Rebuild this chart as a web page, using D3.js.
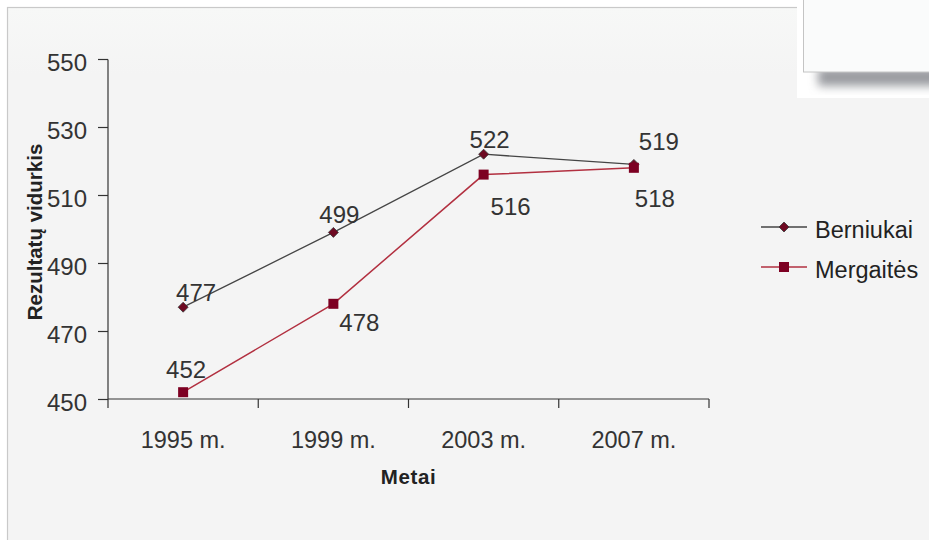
<!DOCTYPE html>
<html><head><meta charset="utf-8">
<script src="https://cdn.jsdelivr.net/npm/d3@7"></script>
<style>
html,body{margin:0;padding:0;background:#fff;}
svg{display:block;font-family:"Liberation Sans",Arial,sans-serif;}
</style></head>
<body>
<svg id="c" width="929" height="540"></svg>
<script>
const categories = ["1995 m.", "1999 m.", "2003 m.", "2007 m."];
const berniukai = [477, 499, 522, 519];
const mergaites = [452, 478, 516, 518];
const seriesNames = ["Berniukai", "Mergaitės"];
const yTicks = [450, 470, 490, 510, 530, 550];
// label placement offsets (layout, px)
const labelOffB = [[13, -6], [6, -9], [6, -6], [25, -14]];
const labelOffM = [[3, -14], [26, 27], [27, 40], [21, 39]];

const FONT = "Liberation Sans, Arial, sans-serif";
const svg = d3.select("#c");
const defs = svg.append("defs");
const grad = defs.append("linearGradient").attr("id","bg").attr("x1",0).attr("y1",0).attr("x2",0).attr("y2",1);
grad.append("stop").attr("offset","0").attr("stop-color","#f7f8f7");
grad.append("stop").attr("offset","0.12").attr("stop-color","#f4f4f4");
grad.append("stop").attr("offset","1").attr("stop-color","#f4f4f4");
const blur = defs.append("filter").attr("id","sh").attr("x","-20%").attr("y","-50%").attr("width","140%").attr("height","200%");
blur.append("feGaussianBlur").attr("stdDeviation",5);

// frame
svg.append("rect").attr("x",7.5).attr("y",7.5).attr("width",940).attr("height",560)
  .attr("fill","url(#bg)").attr("stroke","#c9c9c9").attr("stroke-width",1.2);

const x = d3.scaleBand().domain(categories).range([108, 709]);
const y = d3.scaleLinear().domain([450, 550]).range([399, 59]);

const fontCol = "#333";
// y axis
const ya = svg.append("g").attr("transform","translate(108,0)")
  .call(d3.axisLeft(y).tickValues(yTicks).tickSize(10).tickPadding(11).tickFormat(d3.format("d")));
ya.select(".domain").attr("stroke","#333").attr("stroke-width",1.2).attr("d","M0,59.5V399");
ya.selectAll(".tick line").attr("stroke","#333").attr("stroke-width",1.2);
ya.selectAll(".tick text").attr("font-size",24).attr("fill",fontCol).attr("font-family",FONT).attr("dy","0.46em");

// x axis
const xa = svg.append("g").attr("transform","translate(0,399)")
  .call(d3.axisBottom(x).tickSize(0).tickPadding(49));
xa.select(".domain").attr("stroke","#333").attr("stroke-width",1.2).attr("d","M108,0H709");
xa.selectAll(".tick text").attr("font-size",23.5).attr("fill",fontCol).attr("font-family",FONT).attr("dy","0");
// x boundary ticks
const bounds = categories.map(c => x(c)).concat([x(categories[categories.length-1]) + x.bandwidth()]);
svg.append("g").selectAll("line").data(bounds).join("line")
  .attr("x1",d=>d).attr("x2",d=>d).attr("y1",399).attr("y2",408)
  .attr("stroke","#333").attr("stroke-width",1.2);

// axis titles
svg.append("text").attr("x",408.5).attr("y",484).attr("text-anchor","middle")
  .attr("font-size",20.5).attr("font-weight","bold").attr("fill","#222").attr("letter-spacing",0.6).text("Metai");
svg.append("text").attr("transform","translate(42,232) rotate(-90)").attr("text-anchor","middle")
  .attr("font-size",20.5).attr("font-weight","bold").attr("fill","#222").text("Rezultatų vidurkis");

const cx = c => x(c) + x.bandwidth()/2;
const line = d3.line().x((d,i)=>cx(categories[i])).y(d=>y(d));

// lines
svg.append("path").datum(berniukai).attr("d",line).attr("fill","none").attr("stroke","#454545").attr("stroke-width",1.3);
svg.append("path").datum(mergaites).attr("d",line).attr("fill","none").attr("stroke","#b23040").attr("stroke-width",1.5);

function drawDiamond(g, px, py){
  g.append("path").attr("d","M0,-5L5,0L0,5L-5,0Z").attr("transform",`translate(${px},${py})`)
    .attr("fill","#6e0a22").attr("stroke","#3a3a3a").attr("stroke-width",0.8);
}
function drawSquare(g, px, py){
  g.append("rect").attr("x",px-5).attr("y",py-5).attr("width",10).attr("height",10).attr("fill","#7d0022");
}
const mk = svg.append("g");
berniukai.forEach((v,i)=>drawDiamond(mk, cx(categories[i]), y(v)));
mergaites.forEach((v,i)=>drawSquare(mk, cx(categories[i]), y(v)));

// data labels
const lab = svg.append("g").attr("font-size",24).attr("fill","#333").attr("text-anchor","middle");
berniukai.forEach((v,i)=>lab.append("text").attr("x",cx(categories[i])+labelOffB[i][0]).attr("y",y(v)+labelOffB[i][1]).text(v));
mergaites.forEach((v,i)=>lab.append("text").attr("x",cx(categories[i])+labelOffM[i][0]).attr("y",y(v)+labelOffM[i][1]).text(v));

// legend
const lg = svg.append("g");
[0,1].forEach(i=>{
  const ly = 227 + i*40;
  lg.append("line").attr("x1",761).attr("x2",807).attr("y1",ly).attr("y2",ly)
    .attr("stroke", i===0 ? "#454545" : "#b23040").attr("stroke-width",1.4);
  if(i===0) drawDiamond(lg, 784, ly); else drawSquare(lg, 784, ly);
  lg.append("text").attr("x",815).attr("y",ly+11).attr("font-size",23.5).attr("fill","#222").text(seriesNames[i]);
});

// top-right overlay box with shadow
svg.append("rect").attr("x",797).attr("y",0).attr("width",140).attr("height",98).attr("fill","#ffffff");
svg.append("rect").attr("x",818).attr("y",68).attr("width",130).attr("height",18).attr("fill","#9a9ba0").attr("filter","url(#sh)");
svg.append("rect").attr("x",803.5).attr("y",-2).attr("width",140).attr("height",74).attr("fill","#fafbfb").attr("stroke","#c4c4c4").attr("stroke-width",1);
</script>
</body></html>
